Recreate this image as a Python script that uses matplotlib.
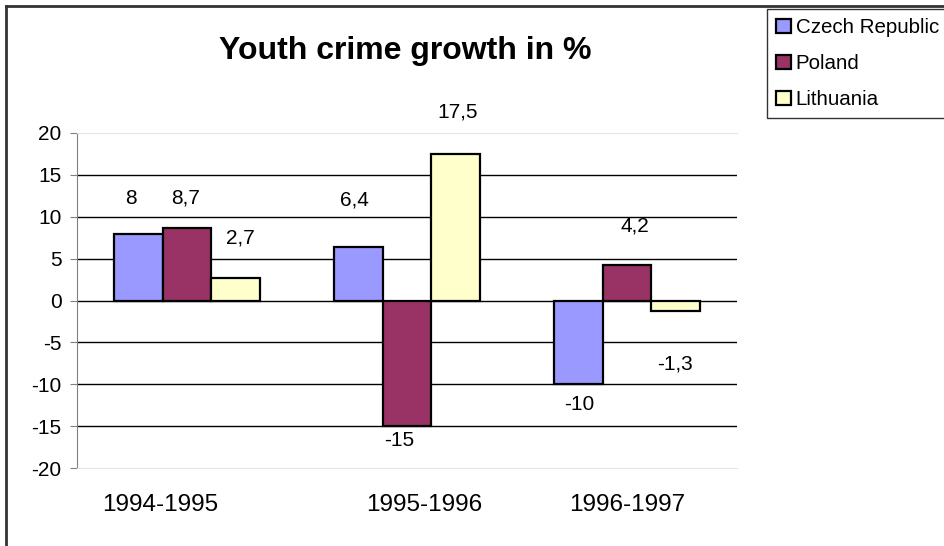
import matplotlib.pyplot as plt
import numpy as np
from matplotlib.lines import Line2D

periods = ["1994-1995", "1995-1996", "1996-1997"]
countries = ["Czech Republic", "Poland", "Lithuania"]
czech = [8, 6.4, -10]
poland = [8.7, -15, 4.2]
lithuania = [2.7, 17.5, -1.3]
colors = ["#9999FF", "#993366", "#FFFFCC"]

# label offsets (pixels) per series, as placed in the original chart
label_dx = [[-7, -4, 1], [-1, -8, 8], [5, 2, -1]]
label_dy = [[35, 47, 20], [30, 14, 39], [40, 42, 53]]
tick_shift = [-0.12, 0.08, 0.0]

plt.rcParams["font.family"] = ["Liberation Sans", "DejaVu Sans"]

fig = plt.figure(figsize=(9.45, 5.46), dpi=100)
ax = fig.add_axes([77 / 945, 78 / 546, 660 / 945, 335 / 546])

x = np.arange(len(periods))
width = 0.221
series = [czech, poland, lithuania]
for i, (vals, name, col) in enumerate(zip(series, countries, colors)):
    pos = x + (i - 1) * width
    ax.bar(pos, vals, width, color=col, edgecolor="black", linewidth=1.6,
           label=name, zorder=3)
    for j, v in enumerate(vals):
        dy = label_dy[i][j] if v >= 0 else -label_dy[i][j]
        ax.annotate(str(v).replace(".", ","), (pos[j], v),
                    xytext=(label_dx[i][j], dy), textcoords="offset pixels",
                    ha="center", va="center", fontsize=15)

ax.set_xlim(-0.5, 2.5)
ax.set_ylim(-20, 20)
ax.set_yticks(range(-20, 21, 5))
ax.set_yticklabels([str(t) for t in range(-20, 21, 5)], fontsize=15)
ax.set_xticks(x + np.array(tick_shift))
ax.set_xticklabels(periods, fontsize=17.5)
ax.tick_params(axis="x", length=0, pad=19)
ax.tick_params(axis="y", length=5, direction="out", color="#808080", pad=6)
for t in range(-15, 16, 5):
    ax.axhline(t, color="black", linewidth=1, zorder=1)
ax.spines["right"].set_visible(False)
ax.spines["top"].set_color("#E6E6E6")
ax.spines["bottom"].set_color("#E6E6E6")
ax.spines["left"].set_color("#808080")

fig.text(405 / 945, 1 - 51 / 546, "Youth crime growth in %", ha="center",
         va="center", fontsize=23, fontweight="bold")

leg = fig.legend(loc="upper left", bbox_to_anchor=(767 / 945, 1 - 9 / 546),
                 fontsize=14.8, frameon=True, fancybox=False, handlelength=0.7,
                 handleheight=0.7, handletextpad=0.25, labelspacing=0.82,
                 borderpad=0.45, borderaxespad=0)
leg.get_frame().set_edgecolor("black")
leg.get_frame().set_linewidth(1)

fig.add_artist(Line2D([6 / 945, 6 / 945], [0, 1 - 6 / 546], color="#333333",
                      linewidth=2, transform=fig.transFigure))
fig.add_artist(Line2D([6 / 945, 1], [1 - 6 / 546, 1 - 6 / 546], color="#333333",
                      linewidth=2, transform=fig.transFigure))

fig.savefig("out.png", dpi=100)
